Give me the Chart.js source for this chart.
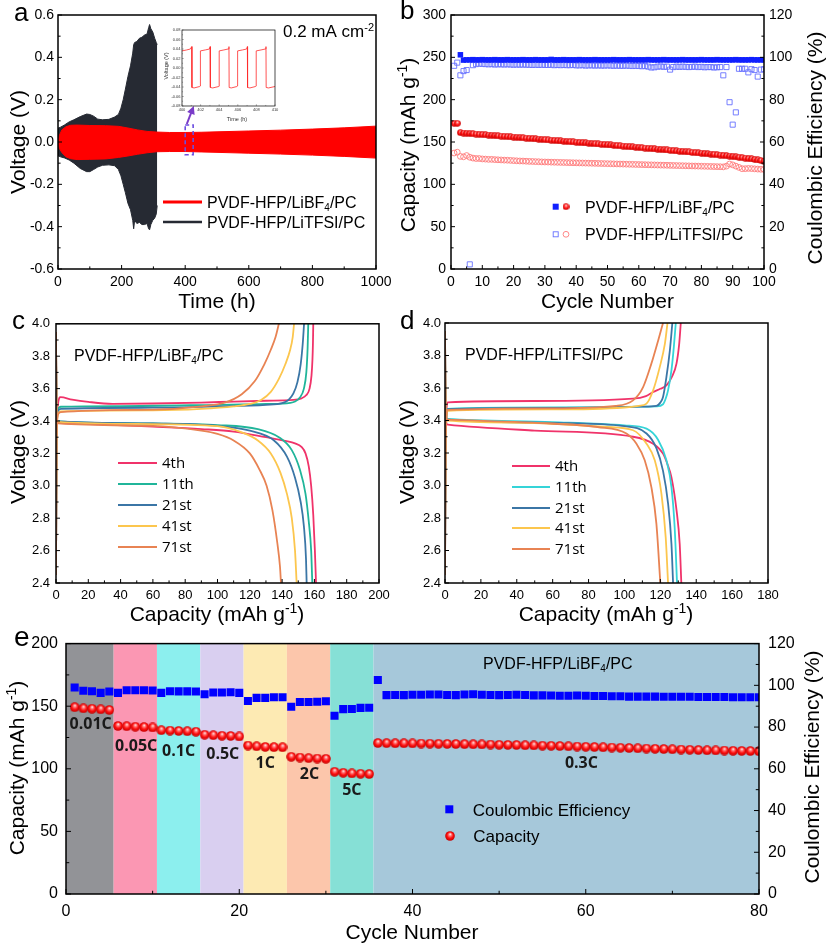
<!DOCTYPE html>
<html><head><meta charset="utf-8">
<script src="https://cdn.jsdelivr.net/npm/chart.js@4.4.1/dist/chart.umd.min.js"></script>
<style>
html,body{margin:0;padding:0;background:#fff;}
body{width:826px;height:948px;position:relative;overflow:hidden;}
canvas{position:absolute;}
</style></head><body>
<canvas id="ca" width="400" height="312" style="left:0;top:0"></canvas>
<canvas id="cb" width="438" height="312" style="left:388px;top:0"></canvas>
<canvas id="cc" width="400" height="320" style="left:0;top:310px"></canvas>
<canvas id="cd" width="438" height="320" style="left:388px;top:310px"></canvas>
<canvas id="ce" width="826" height="323" style="left:0;top:625px"></canvas>
<canvas id="ci" width="122" height="102" style="left:160px;top:25px"></canvas>
<script>
// ================= DATA =================
// Panel a : envelope of the symmetric-cell voltage profiles (h, V)
const bf4EnvTime  = [0, 4, 12, 25, 40, 60, 100, 150, 190, 220, 250, 280, 310, 350, 400, 450, 500, 600, 700, 800, 900, 1000];
const bf4EnvUpper = [0.0, 0.03, 0.057, 0.072, 0.079, 0.08, 0.078, 0.077, 0.074, 0.066, 0.057, 0.05, 0.047, 0.045, 0.045, 0.046, 0.048, 0.052, 0.056, 0.061, 0.067, 0.075];
const bf4EnvLower = [0.0, -0.03, -0.05, -0.07, -0.079, -0.083, -0.082, -0.08, -0.073, -0.066, -0.058, -0.051, -0.046, -0.045, -0.045, -0.047, -0.049, -0.053, -0.057, -0.062, -0.068, -0.076];
const tfsiEnvTime  = [0, 8, 20, 35, 50, 70, 90, 100, 112, 125, 140, 160, 178, 190, 198, 205, 212, 220, 228, 235, 238, 241, 248, 256, 264, 272, 280, 285, 288, 292, 298, 304, 309, 312];
const tfsiEnvUpper = [0.065, 0.07, 0.08, 0.095, 0.105, 0.12, 0.132, 0.13, 0.122, 0.108, 0.105, 0.107, 0.118, 0.13, 0.16, 0.2, 0.25, 0.31, 0.36, 0.42, 0.46, 0.47, 0.475, 0.49, 0.495, 0.505, 0.51, 0.54, 0.555, 0.535, 0.52, 0.49, 0.47, 0.46];
const tfsiEnvLower = [-0.065, -0.07, -0.075, -0.085, -0.1, -0.125, -0.14, -0.14, -0.13, -0.118, -0.11, -0.108, -0.112, -0.13, -0.16, -0.2, -0.24, -0.29, -0.32, -0.37, -0.41, -0.37, -0.385, -0.38, -0.39, -0.39, -0.385, -0.41, -0.415, -0.39, -0.37, -0.36, -0.34, -0.3];
// inset of panel a (400-410 h)
const insetTime = [400, 400.5, 400.9, 401.05, 401.07, 401.3, 401.9, 401.96, 401.98, 402.5, 402.95, 403.03, 403.05, 403.3, 403.95, 403.98, 404.0, 404.5, 404.95, 405.05, 405.07, 405.3, 405.9, 405.96, 405.98, 406.5, 406.95, 407.03, 407.05, 407.3, 407.9, 407.96, 407.98, 408.5, 408.95, 409.03, 409.05, 409.3, 410];
const insetVoltage = [0.036, 0.038, 0.040, 0.045, -0.041, -0.042, -0.039, -0.038, 0.036, 0.038, 0.040, 0.045, -0.041, -0.042, -0.039, -0.038, 0.036, 0.038, 0.040, 0.045, -0.041, -0.042, -0.039, -0.038, 0.036, 0.038, 0.040, 0.045, -0.041, -0.042, -0.039, -0.038, 0.036, 0.038, 0.040, 0.045, -0.041, -0.042, -0.039];
const zoomBox = [400, 425, -0.06, 0.08];
const zoomArrow = [[405, 0.085], [427, 0.17]];

// Panel b : cycling at 100 cycles
const capBF4 = [172,172,161,160.6,160.3,160,159.7,159.4,159.1,158.8,
158.5,158.2,157.9,157.6,157.3,157,156.7,156.4,156.1,155.8,
155.5,155.2,154.9,154.6,154.3,154,153.7,153.4,153.1,152.8,
152.5,152.2,151.9,151.6,151.3,151,150.7,150.4,150.1,149.8,
149.5,149.2,148.9,148.6,148.3,148,147.7,147.4,147.1,146.8,
146.5,146.2,145.8,145.5,145.2,144.9,144.5,144.2,143.9,143.6,
143.2,142.9,142.6,142.2,141.9,141.6,141.2,140.9,140.6,140.2,
139.9,139.5,139.2,138.9,138.5,138.2,137.8,137.5,137.1,136.8,
136.4,136.1,135.7,135.4,135,134.6,134.2,133.8,133.4,133,
132.5,132,131.5,131,130.5,130,129.4,128.8,128.2,127.5];
const capTFSI = [137,138,133,132.5,134,132,131,130.5,130.5,130,
129.8,129.5,129.5,129.2,129,128.8,128.6,128.5,128.3,128,
127.8,127.6,127.5,127.3,127.1,127,126.8,126.7,126.5,126.4,
126.3,126.2,126.1,126,125.9,125.8,125.7,125.6,125.5,125.4,
125.3,125.2,125.1,125,124.9,124.8,124.7,124.6,124.5,124.4,
124.3,124.2,124.1,124,123.9,123.8,123.7,123.6,123.5,123.4,
123.3,123.2,123.1,123,122.9,122.8,122.7,122.6,122.5,122.4,
122.3,122.2,122.1,122,121.9,121.8,121.7,121.6,121.5,121.4,
121.3,121.2,121.1,121,120.9,120.8,120.6,121.5,124,123,
121.5,120,118.5,118.5,118.8,118.6,118.3,118,117.8,117.6];
const ceBF4 = [null,null,101.2,98.7,98.8,98.8,98.9,98.8,98.8,98.9,98.8,98.8,98.8,
98.9,98.8,98.8,98.8,98.9,98.8,98.8,98.8,98.8,98.9,
98.8,98.8,98.8,98.9,98.8,98.8,98.8,98.8,99.0,98.8,
98.8,98.8,98.9,98.8,98.8,98.8,98.8,98.9,98.8,98.8,
98.8,98.8,98.9,98.8,98.8,98.8,98.8,98.8,98.9,98.8,
98.8,98.8,98.8,98.9,98.8,98.8,98.8,98.8,98.8,98.9,
98.8,98.8,98.8,98.8,98.9,98.8,98.8,98.8,98.8,98.8,
98.9,98.8,98.8,98.8,98.8,98.8,98.9,98.8,98.8,98.8,
98.8,98.9,98.8,98.8,98.8,98.8,98.8,98.9,98.8,98.8,
98.8,98.8,98.9,98.8,98.8,98.8,98.8];
const ceTFSI = [96,97.5,91.5,93.5,94,2.2,96.3,96.8,97,96.9,
96.8,96.7,96.8,96.6,96.7,96.7,96.6,96.7,96.6,96.5,
96.6,96.5,96.6,96.5,96.5,96.4,96.5,96.4,96.5,96.4,
96.4,96.5,96.3,96.4,96.3,96.4,96.3,96.3,96.4,96.2,
96.2,96.3,96.1,96.2,96.2,96.1,96.2,96.1,96.1,96.2,
96.1,96,96.1,96,96,96.1,96,95.9,96,95.9,
95.8,95.9,95.6,95.2,95.3,95.6,95.7,95.5,95.6,94.2,
95.4,95.6,95.5,95.6,95.5,95.4,95.5,95.6,95.4,95.5,
95.3,95.4,95.4,95.2,95.3,95.4,91.5,95.4,78.8,68.2,
74,94.6,94.6,94.6,92.9,94.4,94,90.9,94.2,94.4];

// Panel c : LiBF4 charge/discharge curves [capacity, voltage]
const c4Charge = [[0,2.45],[0.4,3.3],[1.2,3.5],[2.8,3.547],[10,3.532],[20,3.518],[35,3.506],[60,3.508],[90,3.514],[110,3.52],[130,3.525],[147,3.53],[152,3.54],[155,3.56],[157,3.6],[158.2,3.68],[158.8,3.78],[159.1,3.88],[159.3,4.0]];
const c4Discharge = [[0,3.95],[0.4,3.42],[1.5,3.392],[30,3.378],[60,3.365],[90,3.35],[110,3.335],[130,3.3],[142,3.277],[148,3.262],[152,3.24],[154.5,3.2],[156.5,3.12],[158,3.0],[159.3,2.82],[160.3,2.6],[161,2.4]];
const c11Charge = [[0,2.45],[0.4,3.3],[1.2,3.47],[3,3.488],[40,3.492],[100,3.5],[130,3.505],[145,3.512],[148,3.52],[151,3.545],[153.5,3.6],[155,3.7],[155.8,3.85],[156.2,4.0]];
const c11Discharge = [[0,3.95],[0.4,3.42],[1.5,3.398],[60,3.385],[100,3.375],[125,3.35],[138,3.3],[146,3.22],[151,3.1],[154.5,2.95],[156.5,2.78],[158,2.6],[158.7,2.4]];
const c21Charge = [[0,2.45],[0.4,3.3],[1.2,3.46],[3,3.475],[60,3.482],[100,3.49],[130,3.5],[140,3.51],[144,3.53],[147,3.57],[149.5,3.64],[151.5,3.75],[152.8,3.88],[153.6,4.0]];
const c21Discharge = [[0,3.95],[0.4,3.42],[1.5,3.398],[60,3.385],[100,3.37],[120,3.34],[135,3.28],[143,3.18],[148,3.05],[151.5,2.9],[153.5,2.75],[154.8,2.55],[155.2,2.4]];
const c41Charge = [[0,2.45],[0.4,3.3],[1.2,3.44],[3,3.46],[60,3.466],[90,3.475],[110,3.49],[120,3.505],[127,3.53],[133,3.58],[138,3.66],[142,3.75],[145,3.84],[146.6,3.92],[147.4,4.0]];
const c41Discharge = [[0,3.95],[0.4,3.42],[1.5,3.395],[50,3.382],[100,3.368],[115,3.33],[125,3.28],[133,3.2],[139,3.08],[143,2.95],[146,2.8],[148,2.6],[149,2.4]];
const c71Charge = [[0,2.45],[0.4,3.3],[1.2,3.44],[3,3.455],[60,3.47],[90,3.49],[105,3.515],[115,3.565],[123,3.645],[129,3.75],[133,3.84],[136,3.92],[138,4.0]];
const c71Discharge = [[0,3.95],[0.4,3.42],[1.5,3.385],[60,3.37],[90,3.34],[100,3.32],[110,3.28],[120,3.2],[126,3.1],[130.4,3.0],[134,2.85],[137,2.65],[138.7,2.5],[139.3,2.4]];

// Panel d : LiTFSI charge/discharge curves [capacity, voltage]
const d4Charge = [[0,2.45],[0.4,3.3],[1.5,3.512],[50,3.52],[104.8,3.534],[112,3.55],[116,3.575],[120,3.595],[123.4,3.616],[126.5,3.67],[129,3.75],[130.5,3.87],[131.4,4.0]];
const d4Discharge = [[0,3.95],[0.4,3.4],[1.5,3.375],[50,3.338],[104.8,3.3],[116,3.257],[121.5,3.196],[124,3.13],[126.2,3.05],[129,2.85],[130.8,2.64],[131.7,2.4]];
const d11Charge = [[0,2.45],[0.4,3.3],[1.5,3.472],[60,3.48],[110,3.485],[117.8,3.487],[121.5,3.5],[123,3.535],[124.3,3.585],[126.2,3.71],[127.5,3.85],[128.6,4.0]];
const d11Discharge = [[0,3.95],[0.4,3.43],[1.5,3.41],[60,3.39],[100,3.37],[112.3,3.35],[118.8,3.28],[123.4,3.155],[126.2,2.99],[128,2.74],[129.3,2.4]];
const d21Charge = [[0,2.45],[0.4,3.3],[1.5,3.47],[60,3.478],[110,3.485],[117.8,3.49],[120,3.51],[121.5,3.545],[123.4,3.668],[125.3,3.83],[126.7,4.0]];
const d21Discharge = [[0,3.95],[0.4,3.43],[1.5,3.405],[60,3.385],[100,3.365],[112.3,3.32],[117.8,3.23],[121.5,3.09],[124.3,2.89],[126.2,2.64],[127.1,2.4]];
const d41Charge = [[0,2.45],[0.4,3.3],[1.5,3.46],[60,3.468],[100,3.48],[108,3.49],[112.3,3.504],[116,3.586],[119.7,3.73],[122.5,3.87],[124,4.0]];
const d41Discharge = [[0,3.95],[0.4,3.42],[1.5,3.4],[60,3.38],[90,3.36],[104.8,3.34],[112.3,3.257],[116.9,3.155],[120.6,2.95],[123,2.68],[124.3,2.4]];
const d71Charge = [[0,2.45],[0.4,3.3],[1.5,3.465],[60,3.475],[95,3.49],[104.8,3.524],[110.4,3.606],[115,3.75],[118.8,3.893],[121.5,4.0]];
const d71Discharge = [[0,3.95],[0.4,3.42],[1.5,3.405],[60,3.38],[85,3.36],[101.1,3.32],[106.7,3.257],[111.3,3.155],[115,2.99],[117.8,2.765],[120,2.4]];
const cycleLabels = ['4th', '11th', '21st', '41st', '71st'];

// Panel e : rate performance
const capE = [149.2,148.3,148,147.5,147,134.2,134,133.6,133.3,133,
130.8,130.5,130.2,130,129.6,127.2,126.8,126.4,126.2,125.8,
118.6,118,117.5,117.3,117.2,109.6,109,108.5,108.2,108,
97.6,96.8,96.3,96,95.8,120.6,120.5,120.4,120.4,120.3,
120.2,120.1,120,119.9,119.8,119.7,119.6,119.5,119.4,119.2,
119.1,119,118.8,118.7,118.5,118.4,118.2,118,117.8,117.6,
117.4,117.2,117,116.8,116.6,116.4,116.2,116,115.8,115.6,
115.4,115.2,115,114.8,114.7,114.6,114.4,114.3,114.2,114];
const ceE = [99,97.4,97.2,96.4,97,96.4,97.6,97.6,97.6,97.5,
96.4,97.2,97.1,97.1,97,95.7,96.6,96.6,96.7,96.4,
92.5,94,94,94.3,94.3,89.7,92,92,92.1,92.4,
85.4,88.6,88.7,89.2,89.3,102.6,95.3,95.4,95.3,95.5,
95.5,95.6,95.6,95.4,95.3,95.6,95.7,95.5,95.4,95.3,
95.4,95.5,95.4,95.2,95.2,95.1,95,95,95.1,95,
94.9,94.9,94.8,94.8,94.6,94.6,94.6,94.6,94.5,94.5,
94.5,94.5,94.4,94.4,94.4,94.4,94.3,94.3,94.3,94.3];
const rateEdges = [0, 5.5, 10.5, 15.5, 20.5, 25.5, 30.5, 35.5, 80];
const rateNames = ['0.01C', '0.05C', '0.1C', '0.5C', '1C', '2C', '5C', '0.3C'];
const rateLabelAt = [[2.85, 136], [8.1, 118.6], [13, 115.2], [18.1, 112.5], [23, 105.1], [28.1, 96.7], [33, 83.6], [59.5, 105.4]];

// ================= STYLE / HELPERS =================
const FAM = "'Liberation Sans', Arial, Helvetica, sans-serif";
const OFAM = "'Open Sans', 'Liberation Sans', sans-serif";
const bandColors = ['#929397', '#fb97b3', '#8cefee', '#d9cff0', '#fdeab3', '#fcc6ab', '#86e0d6', '#a6c8da'];
const cColors = ['#f0336a', '#20b59a', '#3b76a6', '#fcc64e', '#e88353'];
const dColors = ['#f0336a', '#35d4d8', '#3b76a6', '#fcc64e', '#e88353'];

function pts(xs, ys) { const o = []; xs.forEach((x, i) => { if (ys[i] !== null) o.push({x: x, y: ys[i]}); }); return o; }
function pairs(a) { return a.map(p => ({x: p[0], y: p[1]})); }
function idx(n) { return Array.from({length: n}, (_, i) => i + 1); }

function sphere(d) {
  const cv = document.createElement('canvas');
  cv.width = d; cv.height = d;
  const g = cv.getContext('2d'); const r = d / 2;
  const gr = g.createRadialGradient(r * 1.05, r * 0.6, 0, r, r, r);
  gr.addColorStop(0, '#ffffff'); gr.addColorStop(0.28, '#ff7a7a');
  gr.addColorStop(0.6, '#ff1010'); gr.addColorStop(1, '#c00000');
  g.fillStyle = gr; g.beginPath(); g.arc(r, r, r - 0.2, 0, Math.PI * 2); g.fill();
  return cv;
}
const sphereB = sphere(7), sphereE = sphere(10);

function rich(ctx, parts, x, y, o) {
  const size = o.size, fam = o.family || FAM, wt = o.weight || 'normal';
  const fm = wt + ' ' + size + 'px ' + fam;
  const fs = wt + ' ' + Math.round(size * 0.65) + 'px ' + fam;
  ctx.save(); ctx.translate(x, y); if (o.rotate) ctx.rotate(o.rotate);
  ctx.fillStyle = o.color || '#000'; ctx.textBaseline = 'alphabetic'; ctx.textAlign = 'left';
  let total = 0; const ws = [];
  parts.forEach(p => { ctx.font = (p.sub || p.sup) ? fs : fm; const w = ctx.measureText(p.t).width; ws.push(w); total += w; });
  let cx = o.align === 'center' ? -total / 2 : (o.align === 'right' ? -total : 0);
  const base = size * 0.36;
  parts.forEach((p, i) => {
    ctx.font = (p.sub || p.sup) ? fs : fm;
    const dy = p.sub ? size * 0.22 : (p.sup ? -size * 0.38 : 0);
    ctx.fillText(p.t, cx, base + dy); cx += ws[i];
  });
  ctx.restore();
}
function frame(chart, lw) {
  const c = chart.ctx, a = chart.chartArea;
  c.save(); c.strokeStyle = '#000'; c.lineWidth = lw || 1.5;
  c.strokeRect(a.left, a.top, a.right - a.left, a.bottom - a.top); c.restore();
}
function ticks(chart, specs, len, color, lw) {
  const c = chart.ctx, a = chart.chartArea;
  c.save(); c.strokeStyle = color || '#000'; c.lineWidth = lw || 1;
  specs.forEach(sp => {
    const s = chart.scales[sp.id];
    const n = Math.round((s.max - s.min) / sp.minor), ratio = Math.round(sp.major / sp.minor);
    for (let i = 0; i <= n; i++) {
      const v = s.min + i * sp.minor;
      const L = (i % ratio === 0) ? len : len * 0.65;
      const p = s.getPixelForValue(v);
      c.beginPath();
      if (sp.side === 'bottom') { c.moveTo(p, a.bottom); c.lineTo(p, a.bottom - L); }
      else if (sp.side === 'left') { c.moveTo(a.left, p); c.lineTo(a.left + L, p); }
      else { c.moveTo(a.right, p); c.lineTo(a.right - L, p); }
      c.stroke();
    }
  });
  c.restore();
}
function axis(pos, min, max, step, size, pad, fix, fmt, color) {
  return {
    type: 'linear', position: pos, min: min, max: max,
    ticks: {stepSize: step, autoSkip: false, maxRotation: 0, minRotation: 0, color: color || '#000', padding: pad,
      font: {family: FAM, size: size}, callback: v => fmt ? fmt(v) : String(Math.round(v * 1000) / 1000)},
    grid: {display: false, drawTicks: false},
    border: {display: false},
    afterFit: s => { if (pos === 'left' || pos === 'right') s.width = fix; else s.height = fix; }
  };
}
function baseOpts(pad, scales) {
  return {
    responsive: false, animation: false, devicePixelRatio: 1, events: [],
    layout: {padding: pad},
    plugins: {legend: {display: false}, tooltip: {enabled: false}},
    scales: scales
  };
}
const PVDF_BF4 = [{t: 'PVDF-HFP/LiBF'}, {t: '4', sub: 1}, {t: '/PC'}];
const PVDF_TFSI = [{t: 'PVDF-HFP/LiTFSI/PC'}];
const T_CAP = [{t: 'Capacity (mAh g'}, {t: '-1', sup: 1}, {t: ')'}];
const T_CE = [{t: 'Coulombic Efficiency (%)'}];
const T_V = [{t: 'Voltage (V)'}];
const UP = -Math.PI / 2;

// ================= PANEL a =================
new Chart(document.getElementById('ca'), {
  type: 'line',
  data: {datasets: [
    {data: pts(bf4EnvTime, bf4EnvUpper), borderColor: '#ff0000', backgroundColor: '#ff0000', borderWidth: 1, pointRadius: 0, fill: '+1', tension: 0},
    {data: pts(bf4EnvTime, bf4EnvLower), borderColor: '#ff0000', borderWidth: 1, pointRadius: 0, fill: false, tension: 0},
    {data: pts(tfsiEnvTime, tfsiEnvUpper), borderColor: '#262a33', backgroundColor: '#262a33', borderWidth: 1, pointRadius: 0, fill: '+1', tension: 0},
    {data: pts(tfsiEnvTime, tfsiEnvLower), borderColor: '#262a33', borderWidth: 1, pointRadius: 0, fill: false, tension: 0}
  ]},
  options: baseOpts({top: 15, right: 24, left: 0, bottom: 0}, {
    x: axis('bottom', 0, 1000, 200, 14, 5, 43),
    y: axis('left', -0.6, 0.6, 0.2, 14, 4, 58, v => v.toFixed(1))
  }),
  plugins: [{id: 'decoA', afterDraw(chart) {
    const c = chart.ctx, xs = chart.scales.x, ys = chart.scales.y;
    frame(chart);
    ticks(chart, [{id: 'x', side: 'bottom', major: 200, minor: 100}, {id: 'y', side: 'left', major: 0.2, minor: 0.1}], 4);
    // dashed zoom box
    c.save(); c.strokeStyle = '#6c4ee0'; c.lineWidth = 1.6; c.setLineDash([4, 3]);
    const bx0 = xs.getPixelForValue(zoomBox[0]), bx1 = xs.getPixelForValue(zoomBox[1]);
    const by0 = ys.getPixelForValue(zoomBox[3]), by1 = ys.getPixelForValue(zoomBox[2]);
    c.strokeRect(bx0, by0, bx1 - bx0, by1 - by0); c.restore();
    // arrow
    const ax0 = xs.getPixelForValue(zoomArrow[0][0]), ay0 = ys.getPixelForValue(zoomArrow[0][1]);
    const ax1 = xs.getPixelForValue(zoomArrow[1][0]), ay1 = ys.getPixelForValue(zoomArrow[1][1]);
    c.save(); c.strokeStyle = '#7a3cc8'; c.fillStyle = '#7a3cc8'; c.lineWidth = 2;
    const ang = Math.atan2(ay1 - ay0, ax1 - ax0);
    c.beginPath(); c.moveTo(ax0, ay0); c.lineTo(ax1 - 6 * Math.cos(ang), ay1 - 6 * Math.sin(ang)); c.stroke();
    c.beginPath(); c.moveTo(ax1, ay1);
    c.lineTo(ax1 - 8 * Math.cos(ang) + 4 * Math.sin(ang), ay1 - 8 * Math.sin(ang) - 4 * Math.cos(ang));
    c.lineTo(ax1 - 8 * Math.cos(ang) - 4 * Math.sin(ang), ay1 - 8 * Math.sin(ang) + 4 * Math.cos(ang));
    c.closePath(); c.fill(); c.restore();
    // legend
    c.save(); c.lineWidth = 3; c.strokeStyle = '#ff0000';
    c.beginPath(); c.moveTo(163, 202); c.lineTo(202, 202); c.stroke();
    c.strokeStyle = '#262a33'; c.lineWidth = 2.5;
    c.beginPath(); c.moveTo(163, 222); c.lineTo(202, 222); c.stroke(); c.restore();
    rich(c, PVDF_BF4, 207, 202, {size: 16});
    rich(c, [{t: 'PVDF-HFP/LiTFSI/PC'}], 207, 222, {size: 16});
    rich(c, [{t: '0.2 mA cm'}, {t: '-2', sup: 1}], 283, 31, {size: 17});
    rich(c, T_V, 17, 142, {size: 21, rotate: UP, align: 'center'});
    rich(c, [{t: 'Time (h)'}], 217, 300, {size: 21, align: 'center'});
    rich(c, [{t: 'a'}], 14, 12, {size: 26});
  }}]
});

// inset
new Chart(document.getElementById('ci'), {
  type: 'line',
  data: {datasets: [
    {data: pts(insetTime, insetVoltage), borderColor: '#ff2a2a', borderWidth: 0.8, pointRadius: 0, tension: 0, fill: false}
  ]},
  options: baseOpts({top: 5, right: 7, left: 0, bottom: 0}, {
    x: axis('bottom', 400, 410, 2, 4, 1.5, 21, v => String(Math.round(v)), '#333'),
    y: axis('left', -0.08, 0.08, 0.02, 4, 1.5, 22, v => v.toFixed(2), '#333')
  }),
  plugins: [{id: 'decoI',
    beforeDatasetsDraw(chart) { const a = chart.chartArea, c = chart.ctx; c.save(); c.fillStyle = '#fff'; c.fillRect(a.left, a.top, a.right - a.left, a.bottom - a.top); c.restore(); },
    afterDraw(chart) {
      frame(chart, 0.7);
      ticks(chart, [{id: 'x', side: 'bottom', major: 2, minor: 1}, {id: 'y', side: 'left', major: 0.02, minor: 0.01}], 1.6, '#555', 0.6);
      rich(chart.ctx, T_V, 6.5, 41, {size: 5.5, rotate: UP, align: 'center', color: '#333'});
      rich(chart.ctx, [{t: 'Time (h)'}], 77, 94, {size: 5.5, align: 'center', color: '#333'});
    }}]
});

// ================= PANEL b =================
const cycB = idx(100);
new Chart(document.getElementById('cb'), {
  type: 'line',
  data: {datasets: [
    {data: pts(cycB, ceBF4), yAxisID: 'y2', showLine: false, pointStyle: 'rect', pointRadius: 3.9, backgroundColor: '#1020ff', borderColor: '#1020ff', borderWidth: 0},
    {data: pts(cycB, ceTFSI), yAxisID: 'y2', showLine: false, pointStyle: 'rect', pointRadius: 3.6, backgroundColor: 'rgba(0,0,0,0)', borderColor: '#6670ff', borderWidth: 0.9},
    {data: pts(cycB, capBF4), yAxisID: 'y', showLine: false, pointStyle: sphereB, pointRadius: 3.5},
    {data: pts(cycB, capTFSI), yAxisID: 'y', showLine: false, pointStyle: 'circle', pointRadius: 2.9, backgroundColor: 'rgba(0,0,0,0)', borderColor: '#ff7a7a', borderWidth: 0.9}
  ]},
  options: baseOpts({top: 15, right: 0, left: 0, bottom: 0}, {
    x: axis('bottom', 0, 100, 10, 14, 5, 43),
    y: axis('left', 0, 300, 50, 14, 5, 63),
    y2: axis('right', 0, 120, 20, 14, 5, 62)
  }),
  plugins: [{id: 'decoB', afterDraw(chart) {
    const c = chart.ctx;
    frame(chart);
    ticks(chart, [{id: 'x', side: 'bottom', major: 10, minor: 5}, {id: 'y', side: 'left', major: 50, minor: 25}, {id: 'y2', side: 'right', major: 20, minor: 10}], 4);
    const ox = 388;
    // legend
    c.save();
    c.fillStyle = '#1020ff'; c.fillRect(555.7 - ox - 3, 206.7 - 3, 6, 6);
    c.drawImage(sphereB, 566 - ox - 3.5, 206.7 - 3.5);
    c.strokeStyle = '#6670ff'; c.lineWidth = 0.9; c.strokeRect(555.7 - ox - 2.5, 234.3 - 2.5, 5, 5);
    c.strokeStyle = '#ff7a7a'; c.beginPath(); c.arc(566 - ox, 234.3, 2.9, 0, Math.PI * 2); c.stroke();
    c.restore();
    rich(c, PVDF_BF4, 585 - ox, 207, {size: 16});
    rich(c, PVDF_TFSI, 585 - ox, 234, {size: 16});
    rich(c, T_CAP, 407 - ox, 145, {size: 21, rotate: UP, align: 'center'});
    rich(c, T_CE, 814 - ox, 148, {size: 21, rotate: UP, align: 'center'});
    rich(c, [{t: 'Cycle Number'}], 607.5 - ox, 300, {size: 21, align: 'center'});
    rich(c, [{t: 'b'}], 400 - ox, 10, {size: 26});
  }}]
});

// ================= PANELS c & d =================
function gcdSets(curves, colors) {
  const sets = [];
  curves.forEach((pair, i) => {
    pair.forEach(cv => sets.push({data: pairs(cv), borderColor: colors[i], borderWidth: 1.8, pointRadius: 0, fill: false,
      cubicInterpolationMode: 'monotone', order: 10 - i}));
  });
  return sets;
}
function gcdPlugin(id, ox, oy, colors, title, legX0, legX1, legTx, legY, titleX, titleY, letter, yTitleX, xTitleX) {
  return {id: id, afterDraw(chart) {
    const c = chart.ctx;
    frame(chart);
    ticks(chart, [{id: 'x', side: 'bottom', major: 20, minor: 10}, {id: 'y', side: 'left', major: 0.2, minor: 0.1}], 4);
    cycleLabels.forEach((lab, i) => {
      c.save(); c.strokeStyle = colors[i]; c.lineWidth = 2.2;
      c.beginPath(); c.moveTo(legX0 - ox, legY[i] - oy); c.lineTo(legX1 - ox, legY[i] - oy); c.stroke(); c.restore();
      rich(c, [{t: lab}], legTx - ox, legY[i] - oy, {size: 15, family: OFAM});
    });
    rich(c, title, titleX - ox, titleY - oy, {size: 16});
    rich(c, T_V, yTitleX - ox, 452 - oy, {size: 21, rotate: UP, align: 'center'});
    rich(c, T_CAP, xTitleX - ox, 613 - oy, {size: 21, align: 'center'});
    rich(c, [{t: letter}], letter === 'c' ? 12 : 400 - ox, 320 - oy, {size: 26});
  }};
}
new Chart(document.getElementById('cc'), {
  type: 'line',
  data: {datasets: gcdSets([[c4Charge, c4Discharge], [c11Charge, c11Discharge], [c21Charge, c21Discharge], [c41Charge, c41Discharge], [c71Charge, c71Discharge]], cColors)},
  options: baseOpts({top: 13, right: 21, left: 0, bottom: 0}, {
    x: axis('bottom', 0, 200, 20, 13, 5, 47),
    y: axis('left', 2.4, 4.0, 0.2, 13, 6, 56, v => v.toFixed(1))
  }),
  plugins: [gcdPlugin('decoC', 0, 310, cColors, PVDF_BF4, 118, 157, 162, [463, 484, 505, 526, 547], 74, 355, 'c', 17, 217)]
});
new Chart(document.getElementById('cd'), {
  type: 'line',
  data: {datasets: gcdSets([[d4Charge, d4Discharge], [d11Charge, d11Discharge], [d21Charge, d21Discharge], [d41Charge, d41Discharge], [d71Charge, d71Discharge]], dColors)},
  options: baseOpts({top: 13, right: 58, left: 0, bottom: 0}, {
    x: axis('bottom', 0, 180, 20, 13, 5, 47),
    y: axis('left', 2.4, 4.0, 0.2, 13, 4, 57, v => v.toFixed(1))
  }),
  plugins: [gcdPlugin('decoD', 388, 310, dColors, PVDF_TFSI, 512, 550, 555, [466, 487, 508, 528, 549], 465, 354, 'd', 406, 606)]
});

// ================= PANEL e =================
const cycE = idx(80);
new Chart(document.getElementById('ce'), {
  type: 'line',
  data: {datasets: [
    {data: pts(cycE, ceE), yAxisID: 'y2', showLine: false, pointStyle: 'rect', pointRadius: 5.7, backgroundColor: '#0000ff', borderColor: '#0000ff', borderWidth: 0},
    {data: pts(cycE, capE), yAxisID: 'y', showLine: false, pointStyle: sphereE, pointRadius: 5}
  ]},
  options: baseOpts({top: 16, right: 0, left: 0, bottom: 0}, {
    x: axis('bottom', 0, 80, 20, 16, 8, 54),
    y: axis('left', 0, 200, 50, 16, 8, 66),
    y2: axis('right', 0, 120, 20, 16, 9, 67)
  }),
  plugins: [{id: 'decoE',
    beforeDatasetsDraw(chart) {
      const c = chart.ctx, a = chart.chartArea, xs = chart.scales.x;
      c.save();
      for (let i = 0; i < rateEdges.length - 1; i++) {
        const x0 = xs.getPixelForValue(rateEdges[i]), x1 = xs.getPixelForValue(rateEdges[i + 1]);
        c.fillStyle = bandColors[i]; c.fillRect(x0, a.top, x1 - x0, a.bottom - a.top);
      }
      c.restore();
    },
    afterDraw(chart) {
      const c = chart.ctx, xs = chart.scales.x, ys = chart.scales.y, oy = 625;
      frame(chart);
      ticks(chart, [{id: 'x', side: 'bottom', major: 20, minor: 10}, {id: 'y', side: 'left', major: 50, minor: 25}, {id: 'y2', side: 'right', major: 20, minor: 10}], 5);
      rateNames.forEach((n, i) => {
        rich(c, [{t: n}], xs.getPixelForValue(rateLabelAt[i][0]), ys.getPixelForValue(rateLabelAt[i][1]), {size: 16, weight: 'bold', family: OFAM, align: 'center', color: '#1a1a1a'});
      });
      rich(c, PVDF_BF4, 483, 663 - oy, {size: 16});
      c.save(); c.fillStyle = '#0000ff'; c.fillRect(449.3 - 4, 809.3 - oy - 4, 8, 8);
      c.drawImage(sphereE, 450 - 5, 836 - oy - 5); c.restore();
      rich(c, [{t: 'Coulombic Efficiency'}], 472.7, 810 - oy, {size: 17});
      rich(c, [{t: 'Capacity'}], 473.3, 836 - oy, {size: 17});
      rich(c, T_CAP, 16, 768 - oy, {size: 21, rotate: UP, align: 'center'});
      rich(c, T_CE, 811, 767 - oy, {size: 21, rotate: UP, align: 'center'});
      rich(c, [{t: 'Cycle Number'}], 412, 931 - oy, {size: 21, align: 'center'});
      rich(c, [{t: 'e'}], 14, 636 - oy, {size: 28});
    }}]
});
</script>
</body></html>
